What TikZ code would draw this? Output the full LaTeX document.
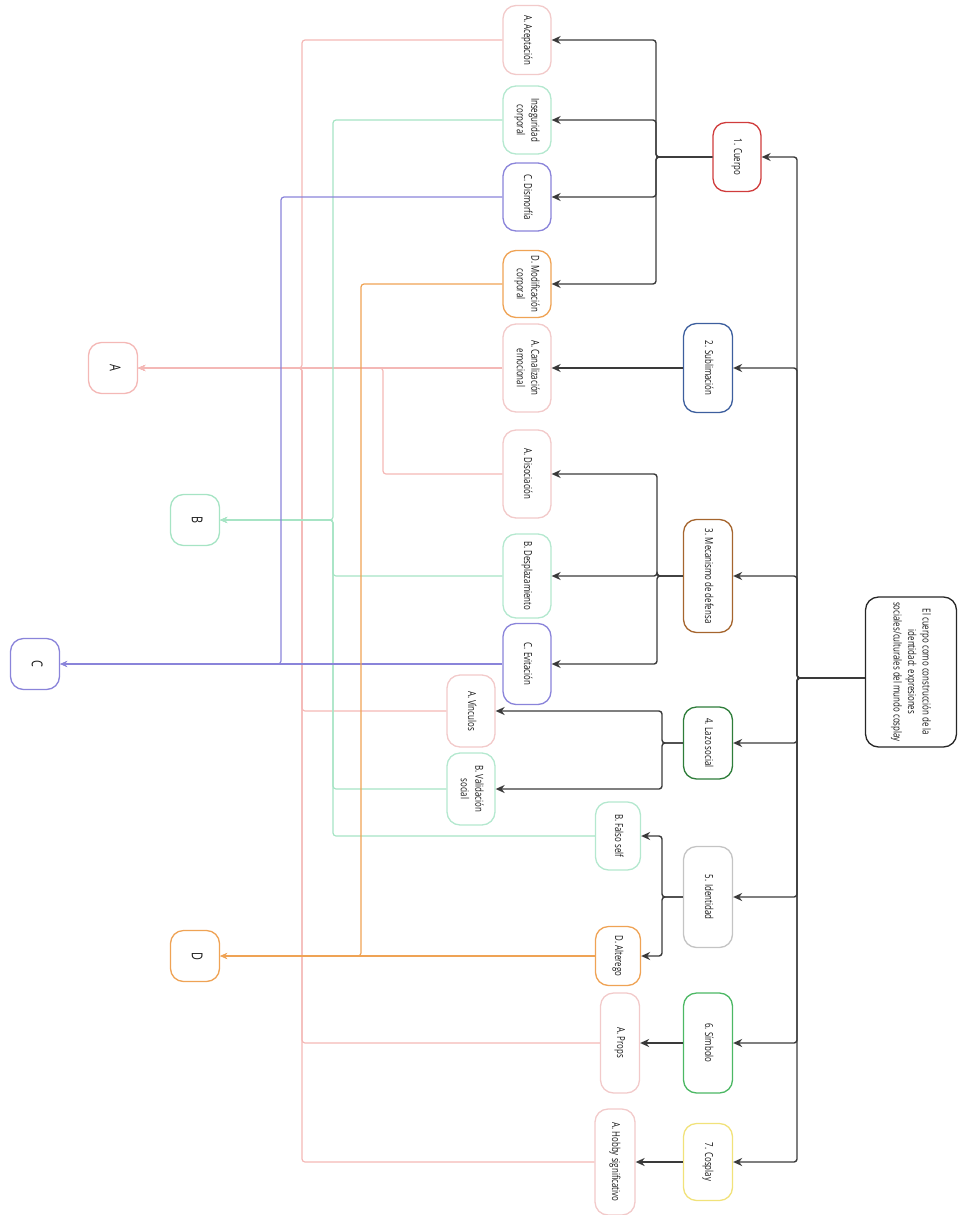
\documentclass[tikz,border=0pt]{standalone}
\usepackage{fontspec}
\setmainfont{Open Sans}[FakeStretch=0.72]
\usetikzlibrary{arrows.meta,calc}
\definecolor{cDark}{HTML}{3A3A3A}
\definecolor{cPink}{HTML}{F4B8B6}
\definecolor{cPinkB}{HTML}{F2CACA}
\definecolor{cGreenL}{HTML}{A6E4C4}
\definecolor{cGreenB}{HTML}{B4E8CF}
\definecolor{cPurple}{HTML}{8A84DA}
\definecolor{cOrange}{HTML}{EFA355}
\definecolor{cRed}{HTML}{D03C3C}
\definecolor{cBlue}{HTML}{3D5F9E}
\definecolor{cBrown}{HTML}{A5652E}
\definecolor{cDkGreen}{HTML}{2E7D3A}
\definecolor{cGray}{HTML}{C4C4C4}
\definecolor{cGreen}{HTML}{4CB864}
\definecolor{cYellow}{HTML}{F1E27A}
\newcommand\rt[1]{\rotatebox{-90}{\begin{tabular}{@{}c@{}}#1\end{tabular}}}
\begin{document}
\begin{tikzpicture}[x=1pt,y=-1pt,
  box/.style={draw, rounded corners=13pt, line width=1.3pt, fill=white, inner sep=0pt,
    font=\fontsize{11}{14.5}\selectfont, text=black!90},
  tbox/.style={box, minimum width=49pt, minimum height=51pt, font=\fontsize{15}{16}\selectfont},
  conn/.style={draw=cDark, line width=1.4pt, rounded corners=3pt, -{Stealth[length=9pt,width=8pt]}},
  colconn/.style={draw=#1, line width=1.2pt, rounded corners=3pt, -{Stealth[length=7pt,width=6pt]}}
]
\useasboundingbox (0,0) rectangle (958,1215);

% root
\node[box, draw=black!85, minimum width=91pt, minimum height=150pt] (root) at (911,672)
  {\rt{El cuerpo como construcción de la\\ identidad: expresiones\\ sociales/culturales del mundo cosplay}};

% level 1
\node[box, draw=cRed, minimum width=48pt, minimum height=69pt] (c1) at (737,157) {\rt{1. Cuerpo}};
\node[box, draw=cBlue, minimum width=49pt, minimum height=89pt] (c2) at (708,368) {\rt{2. Sublimación}};
\node[box, draw=cBrown, minimum width=49pt, minimum height=113pt] (c3) at (708,576) {\rt{3. Mecanismo de defensa}};
\node[box, draw=cDkGreen, minimum width=49pt, minimum height=72pt] (c4) at (708,743) {\rt{4. Lazo social}};
\node[box, draw=cGray, minimum width=49pt, minimum height=101pt] (c5) at (708,897) {\rt{5. Identidad}};
\node[box, draw=cGreen, minimum width=49pt, minimum height=100pt] (c6) at (708,1043) {\rt{6. Símbolo}};
\node[box, draw=cYellow, minimum width=49pt, minimum height=77pt] (c7) at (708,1162) {\rt{7. Cosplay}};

% level 2
\node[box, draw=cPinkB, minimum width=48pt, minimum height=69pt] (a1) at (527,40) {\rt{A. Aceptación}};
\node[box, draw=cGreenB, minimum width=48pt, minimum height=68pt] (b1) at (527,120) {\rt{Inseguridad\\ corporal}};
\node[box, draw=cPurple, minimum width=48pt, minimum height=68pt] (cc1) at (527,197) {\rt{C. Dismorfía}};
\node[box, draw=cOrange, minimum width=48pt, minimum height=67pt] (d1) at (527,284) {\rt{D. Modificación\\ corporal}};
\node[box, draw=cPinkB, minimum width=48pt, minimum height=88pt] (a2) at (527,368) {\rt{A. Canalización\\ emocional}};
\node[box, draw=cPinkB, minimum width=48pt, minimum height=88pt] (a3) at (527,474) {\rt{A. Disociación}};
\node[box, draw=cGreenB, minimum width=48pt, minimum height=84pt] (b3) at (527,576) {\rt{B. Desplazamiento}};
\node[box, draw=cPurple, minimum width=48pt, minimum height=81pt] (cc3) at (527,664) {\rt{C. Evitación}};
\node[box, draw=cPinkB, minimum width=48pt, minimum height=72pt] (a4) at (471,711) {\rt{A. Vínculos}};
\node[box, draw=cGreenB, minimum width=48pt, minimum height=72pt] (b4) at (471,789) {\rt{B. Validación\\ social}};
\node[box, draw=cGreenB, minimum width=45pt, minimum height=68pt] (b5) at (618,836) {\rt{B. Falso self}};
\node[box, draw=cOrange, minimum width=45pt, minimum height=59pt] (d5) at (618,956) {\rt{D. Alterego}};
\node[box, draw=cPinkB, minimum width=39pt, minimum height=100pt] (a6) at (620,1043) {\rt{A. Props}};
\node[box, draw=cPinkB, minimum width=40pt, minimum height=106pt] (a7) at (615,1162) {\rt{A. Hobby significativo}};

% targets
\node[tbox, draw=cPink] (TA) at (113,368) {\rt{A}};
\node[tbox, draw=cGreenL] (TB) at (195,520) {\rt{B}};
\node[tbox, draw=cPurple] (TC) at (35,664) {\rt{C}};
\node[tbox, draw=cOrange] (TD) at (195,956) {\rt{D}};

% coloured connectors
\foreach \s in {a1,a4,a6,a7} \draw[colconn=cPink] (\s.west) -| (302,368) -- (TA.east);
\draw[colconn=cPink] (a3.west) -| (383,368) -- (TA.east);
\draw[colconn=cPink] (a2.west) -- (TA.east);
\foreach \s in {b1,b3,b4,b5} \draw[colconn=cGreenL] (\s.west) -| (333,520) -- (TB.east);
\draw[colconn=cPurple] (cc1.west) -| (281,664) -- (TC.east);
\draw[colconn=cPurple] (cc3.west) -- (TC.east);
\draw[colconn=cOrange] (d1.west) -| (361,956) -- (TD.east);
\draw[colconn=cOrange] (d5.west) -- (TD.east);

% trunk
\foreach \c in {c1,c2,c3,c4,c5,c6,c7}
  \draw[conn] ([yshift=-6pt]root.west) -- (797,678) |- (\c.east);

% level1 -> level2
\foreach \s in {a1,b1,cc1,d1} \draw[conn] (c1.west) -- (656,157) |- (\s.east);
\draw[conn] (c2.west) -- (a2.east);
\foreach \s in {a3,b3,cc3} \draw[conn] (c3.west) -- (657,576) |- (\s.east);
\foreach \s in {a4,b4} \draw[conn] (c4.west) -- (662,743) |- (\s.east);
\foreach \s in {b5,d5} \draw[conn] (c5.west) -- (662,897) |- (\s.east);
\draw[conn] (c6.west) -- (a6.east);
\draw[conn] (c7.west) -- (a7.east);
\end{tikzpicture}
\end{document}
